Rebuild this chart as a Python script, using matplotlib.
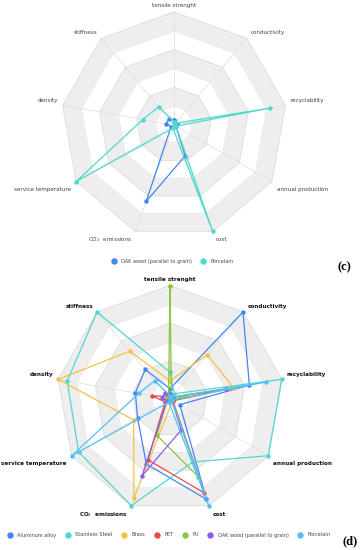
import numpy as np
import matplotlib
matplotlib.use("Agg")
from matplotlib import pyplot as plt
from matplotlib.lines import Line2D

# axis order goes clockwise from the top
categories = ["tensile strenght", "conductivity", "recyclability", "annual production",
              "cost", "CO$_2$  emissions", "service temperature", "density", "stiffness"]

# normalised scores (0..1)
aluminum = [0.09, 1.00, 0.71, 0.10, 0.94, 0.61, 0.33, 0.31, 0.34]
stainless = [0.235, 0.06, 1.00, 1.00, 0.59, 1.00, 0.93, 0.92, 1.00]
brass = [0.16, 0.51, 0.57, 0.03, 0.04, 0.93, 0.37, 1.00, 0.55]
pet = [0.03, 0.02, 0.50, 0.03, 0.88, 0.57, 0.05, 0.16, 0.03]
pu = [1.00, 0.02, 0.14, 0.02, 0.73, 0.34, 0.03, 0.03, 0.02]
oak = [0.04, 0.02, 0.03, 0.02, 0.29, 0.72, 0.03, 0.07, 0.07]
porcelain = [0.03, 0.02, 0.86, 0.02, 1.00, 0.03, 1.00, 0.28, 0.21]

names_c = ["OAK wood (parallel to grain)", "Porcelain"]
series_c = [oak, porcelain]
colors_c = ["#4285F4", "#4DD9CF"]

names_d = ["Aluminum alloy", "Stainless Steel", "Brass", "PET", "PU",
           "OAK wood (parallel to grain)", "Porcelain"]
series_d = [aluminum, stainless, brass, pet, pu, oak, porcelain]
colors_d = ["#4285F4", "#4DD9CF", "#F6C145", "#F04848", "#8DC63F", "#8A5CF5", "#4FC3F7"]

n_rings = 6
n = len(categories)
theta = np.arange(n) * 2 * np.pi / n
theta_c = np.append(theta, theta[0])

# label offsets in pixels (dx, dy, ha) for each axis
offsets = [(0, 6.5, "center"), (4.3, 6, "left"), (4.8, 4.7, "left"), (5, -7.8, "left"),
           (3.5, -8.6, "left"), (-3.5, -8.6, "right"), (-5, -7.8, "right"),
           (-4.8, 4.7, "right"), (-3.7, 6, "right")]


def radar(ax, series, colors, bold):
    ax.set_theta_zero_location("N")
    ax.set_theta_direction(-1)
    ax.set_ylim(0, 1)
    ax.set_axis_off()
    # alternating bands
    for k in range(n_rings, 0, -1):
        r = np.full(n + 1, k / n_rings)
        ax.fill(theta_c, r, color="#EEEEEE" if k % 2 == 0 else "white", zorder=0, clip_on=False)
        ax.plot(theta_c, r, color="#DDDDDD", lw=0.5, zorder=1, clip_on=False)
    for t in theta:
        ax.plot([t, t], [0, 1], color="#DDDDDD", lw=0.5, zorder=1, clip_on=False)
    for vals, c in zip(series, colors):
        v = np.append(vals, vals[0])
        ax.plot(theta_c, v, color=c, lw=0.9, marker="o", markersize=2.2,
                zorder=3, clip_on=False)
    for t, lab, (dx, dy, ha) in zip(theta, categories, offsets):
        ax.annotate(lab, xy=(t, 1.0), xytext=(dx, dy), textcoords="offset pixels",
                    ha=ha, va="center", fontsize=4.1,
                    fontweight="bold" if bold else "normal",
                    color="#111111" if bold else "#444444")


fig = plt.figure(figsize=(3.6, 5.5), dpi=100)

ax1 = fig.add_axes([61 / 360, (550 - 125 - 113) / 550, 226 / 360, 226 / 550], projection="polar")
radar(ax1, series_c, colors_c, False)

ax2 = fig.add_axes([56.5 / 360, (550 - 399 - 113.5) / 550, 227 / 360, 227 / 550], projection="polar")
radar(ax2, series_d, colors_d, True)


def legend(names, colors, x, y):
    handles = [Line2D([], [], ls="none", marker="o", color=c, markersize=3.6) for c in colors]
    leg = fig.legend(handles, names, loc="center", bbox_to_anchor=(x / 360, 1 - y / 550),
                     ncol=len(names), frameon=False, fontsize=3.6, handlelength=1.0,
                     handletextpad=1.0, columnspacing=1.8, borderpad=0, borderaxespad=0)
    for t in leg.get_texts():
        t.set_color("#444444")


legend(names_c, colors_c, 172.5, 261)
legend(names_d, colors_d, 169, 535)

fig.text(344 / 360, 1 - 267 / 550, "(c)", family="Liberation Serif", fontweight="bold",
         fontsize=9, ha="center", va="center")
fig.text(350 / 360, 1 - 541 / 550, "(d)", family="Liberation Serif", fontweight="bold",
         fontsize=9, ha="center", va="center")

fig.savefig("out.png", dpi=100)
